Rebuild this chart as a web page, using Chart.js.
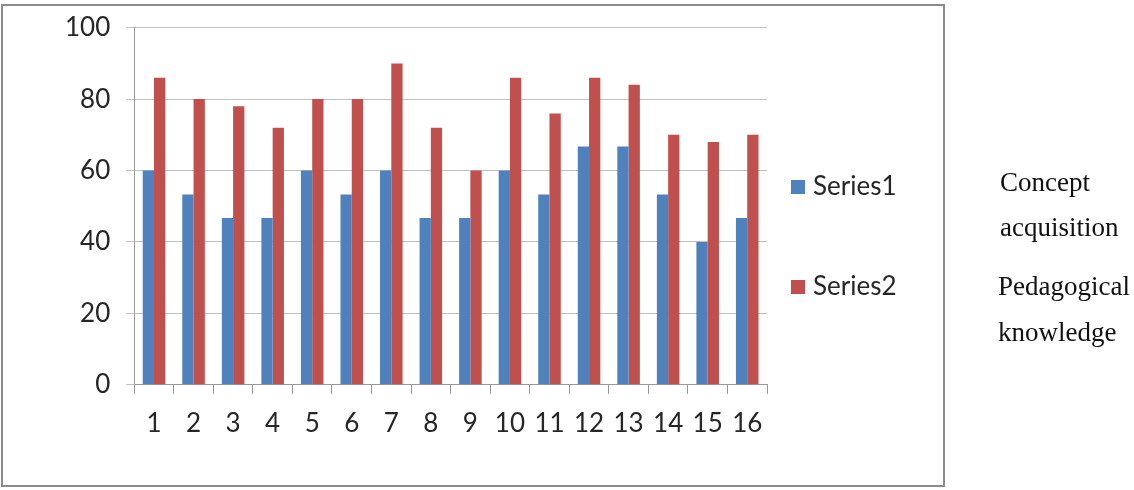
<!DOCTYPE html>
<html>
<head>
<meta charset="utf-8">
<script src="https://cdn.jsdelivr.net/npm/chart.js@4"></script>
<style>
  body { margin: 0; background: #fff; width: 1134px; height: 490px; position: relative; overflow: hidden; }
  #frame { position: absolute; left: 1px; top: 4px; width: 940px; height: 479px; border: 2px solid #8c8c8c; pointer-events: none; }
  #chart-wrap { position: absolute; left: 0; top: 0; width: 1134px; height: 490px; }
  .note { position: absolute; font-family: "Liberation Serif", "Times New Roman", serif; font-size: 27px; color: #111; line-height: 1; }
</style>
</head>
<body>
<div id="chart-wrap"><canvas id="bar-chart"></canvas></div>
<div id="frame"></div>
<div class="note" style="left:1000px; top:169px;">Concept</div>
<div class="note" style="left:1000px; top:214px;">acquisition</div>
<div class="note" style="left:998px; top:273px;">Pedagogical</div>
<div class="note" style="left:998px; top:319px;">knowledge</div>
<script>
const categories = ["1","2","3","4","5","6","7","8","9","10","11","12","13","14","15","16"];
const series1 = [60, 53.3, 46.7, 46.7, 60, 53.3, 60, 46.7, 46.7, 60, 53.3, 66.7, 66.7, 53.3, 40, 46.7];
const series2 = [86, 80, 78, 72, 80, 80, 90, 72, 60, 86, 76, 86, 84, 70, 68, 70];
const series_names = ["Series1", "Series2"];
const y_ticks = [0, 20, 40, 60, 80, 100];

const blue = "#4f81bd";
const red = "#c0504d";
const axis_font = { family: "Lato, 'Open Sans', sans-serif", size: 26 };

// legend drawn by hand so it sits where the Excel one does
const side_legend = {
    id: "side_legend",
    afterDraw(chart) {
        const ctx = chart.ctx;
        ctx.save();
        ctx.font = "26px Lato, 'Open Sans', sans-serif";
        ctx.textBaseline = "middle";
        chart.data.datasets.forEach((ds, i) => {
            const y = 187 + i * 100;
            ctx.fillStyle = ds.backgroundColor;
            ctx.fillRect(791, y - 7, 14, 14);
            ctx.fillStyle = "#262626";
            ctx.fillText(ds.label, 813, y);
        });
        ctx.restore();
    }
};

new Chart(document.getElementById("bar-chart"), {
    type: "bar",
    data: {
        labels: categories,
        datasets: [
            { label: series_names[0], data: series1, backgroundColor: blue },
            { label: series_names[1], data: series2, backgroundColor: red }
        ]
    },
    options: {
        responsive: true,
        maintainAspectRatio: false,
        animation: false,
        layout: { padding: { left: 49, right: 367, top: 9, bottom: 37 } },
        datasets: { bar: { categoryPercentage: 0.57, barPercentage: 1 } },
        plugins: {
            legend: { display: false },
            tooltip: { enabled: false }
        },
        scales: {
            x: {
                grid: { drawOnChartArea: false, color: "#999", tickLength: 9, offset: true },
                border: { color: "#999" },
                ticks: { color: "#262626", font: axis_font, padding: 14, maxRotation: 0, autoSkip: false }
            },
            y: {
                min: 0,
                max: 100,
                afterBuildTicks: (axis) => { axis.ticks = y_ticks.map(v => ({ value: v })); },
                grid: { color: "#c0c0c0", tickLength: 8 },
                border: { color: "#999" },
                ticks: { color: "#262626", font: { ...axis_font, lineHeight: 0.9 }, padding: 16 }
            }
        }
    },
    plugins: [side_legend]
});
</script>
</body>
</html>
